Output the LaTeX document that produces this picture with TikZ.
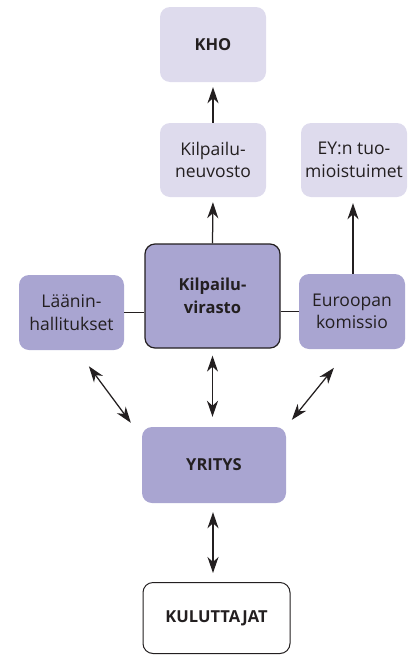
\documentclass[tikz,border=0pt]{standalone}
\usepackage{fontspec}
\setmainfont{Open Sans}
\usetikzlibrary{arrows.meta,calc}
\definecolor{lightlav}{HTML}{DEDBED}
\definecolor{darklav}{HTML}{A9A5D1}
\definecolor{ink}{HTML}{231F20}
\begin{document}
\begin{tikzpicture}[x=1pt,y=-1pt,
  box/.style={rounded corners=10pt, align=center, inner sep=0pt,
    font=\fontsize{17.5}{22.5}\selectfont, text=ink},
  lbox/.style={box, fill=lightlav},
  dbox/.style={box, fill=darklav},
  bbox/.style={box, font=\fontsize{16.5}{22.5}\selectfont\bfseries},
  conn/.style={line width=1.25pt, ink},
  tip/.style={-{Stealth[length=16pt,width=11pt,inset=5pt]}},
  dtip/.style={{Stealth[length=16pt,width=11pt,inset=5pt]}-{Stealth[length=16pt,width=11pt,inset=5pt]}}
]
\useasboundingbox (0,0) rectangle (414,656);
\node[lbox, bbox, fill=lightlav, minimum width=106pt, minimum height=75pt] (kho) at (213,44.5) {KHO};
\node[lbox, minimum width=106pt, minimum height=74pt] (kn) at (213,160) {Kilpailu-\\neuvosto};
\node[lbox, minimum width=106pt, minimum height=74pt] (ey) at (354,160) {EY:n tuo-\\mioistuimet};
\node[dbox, bbox, fill=darklav, draw=ink, line width=1.2pt, minimum width=135pt, minimum height=104pt] (kv) at (212.5,296) {Kilpailu-\\virasto};
\node[dbox, minimum width=105pt, minimum height=75pt] (la) at (71.5,312.5) {Läänin-\\hallitukset};
\node[dbox, minimum width=106pt, minimum height=75pt] (eu) at (352,311.5) {Euroopan\\komissio};
\node[dbox, bbox, fill=darklav, minimum width=144pt, minimum height=76pt] (yr) at (214,465) {YRITYS};
\node[bbox, draw=ink, line width=1pt, fill=white, minimum width=147pt, minimum height=71pt] (ku) at (216.5,618) {KULUTTAJAT};

\draw[conn, tip, shorten >=5pt] (kn.north) -- (kho.south);
\draw[conn, tip, shorten >=5pt] (kv.north) -- (kn.south);
\draw[conn, tip, shorten >=6pt] (eu.north -| 353,0) -- (ey.south -| 353,0);
\draw[conn] (la.east) -- (la.east -| kv.west);
\draw[conn] (kv.east |- eu.west) -- (eu.west);
\draw[conn, dtip, shorten <=20pt, shorten >=5pt] ([xshift=5.5pt]la.south) -- ([xshift=-8pt]yr.north west);
\draw[conn, dtip, shorten <=7pt, shorten >=10pt] (kv.south) -- (kv.south |- yr.north);
\draw[conn, dtip, shorten <=24pt, shorten >=9pt] ([xshift=-3pt]eu.south) -- (yr.north east);
\draw[conn, dtip, shorten <=9pt, shorten >=9pt] (yr.south -| 213,0) -- (ku.north -| 213,0);
\end{tikzpicture}
\end{document}
